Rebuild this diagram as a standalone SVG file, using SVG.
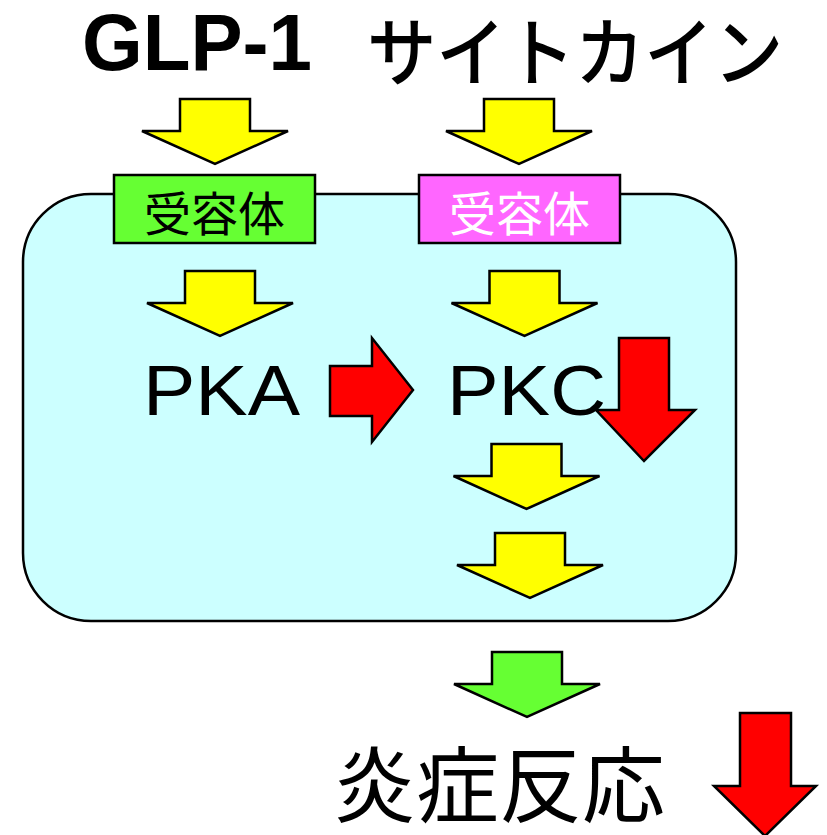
<svg xmlns="http://www.w3.org/2000/svg" width="827" height="835" viewBox="0 0 827 835">
<style>
.ar{stroke:#000;stroke-width:2.5;stroke-linejoin:miter}
.y{fill:#ffff00}.r{fill:#ff0000}.g{fill:#66ff33}
.jp{font-family:"Noto Sans CJK JP","Noto Sans CJK SC",sans-serif}
.lat{font-family:"Liberation Sans",Arial,sans-serif}
</style>
<defs>
<path id="ya" d="M-35,0 H35 V32 H73 L0,65 L-73,32 H-35 Z"/>
</defs>
<rect width="827" height="835" fill="#fff"/>
<g id="cell">
<rect x="23" y="194" width="713" height="427" rx="68" ry="68" fill="#ccffff" stroke="#000" stroke-width="2.5"/>
</g>
<g id="glp1"><text class="lat" x="82" y="70" font-size="80" font-weight="bold" textLength="230" lengthAdjust="spacingAndGlyphs">GLP-1</text></g>
<g id="cytokine"><text class="jp" x="367" y="80" font-size="75" font-weight="500" textLength="416" lengthAdjust="spacingAndGlyphs">サイトカイン</text></g>
<g id="receptor1">
<rect x="114" y="175" width="201" height="68" fill="#66ff33" stroke="#000" stroke-width="2.5"/>
<text class="jp" x="214.5" y="231" font-size="47" text-anchor="middle">受容体</text>
</g>
<g id="receptor2">
<rect x="419" y="175" width="201" height="68" fill="#ff66ff" stroke="#000" stroke-width="2.5"/>
<text class="jp" x="519.5" y="231" font-size="47" text-anchor="middle" fill="#fff">受容体</text>
</g>
<g id="pka"><text class="lat" x="143" y="415" font-size="70" textLength="157" lengthAdjust="spacingAndGlyphs">PKA</text></g>
<g id="pkc"><text class="lat" x="447" y="415" font-size="70" textLength="159" lengthAdjust="spacingAndGlyphs">PKC</text></g>
<g id="inflammation"><text class="jp" x="333" y="816" font-size="83">炎症反応</text></g>
<g id="connectors">
<use href="#ya" class="ar y" transform="translate(215,99)"/>
<use href="#ya" class="ar y" transform="translate(519,99)"/>
<use href="#ya" class="ar y" transform="translate(220,271)"/>
<use href="#ya" class="ar y" transform="translate(524.5,271)"/>
<use href="#ya" class="ar y" transform="translate(526.5,444)"/>
<use href="#ya" class="ar y" transform="translate(530,533)"/>
<use href="#ya" class="ar g" transform="translate(527,652)"/>
<path class="ar r" d="M330,366 H372 V338 L413,390 L372,442 V416 H330 Z"/>
<path class="ar r" d="M619,338 H669 V410 H695 L644,461 L596,410 H619 Z"/>
<path class="ar r" d="M740,713 H791 V786 H816 L765,836 L714,786 H740 Z"/>
</g>
</svg>
